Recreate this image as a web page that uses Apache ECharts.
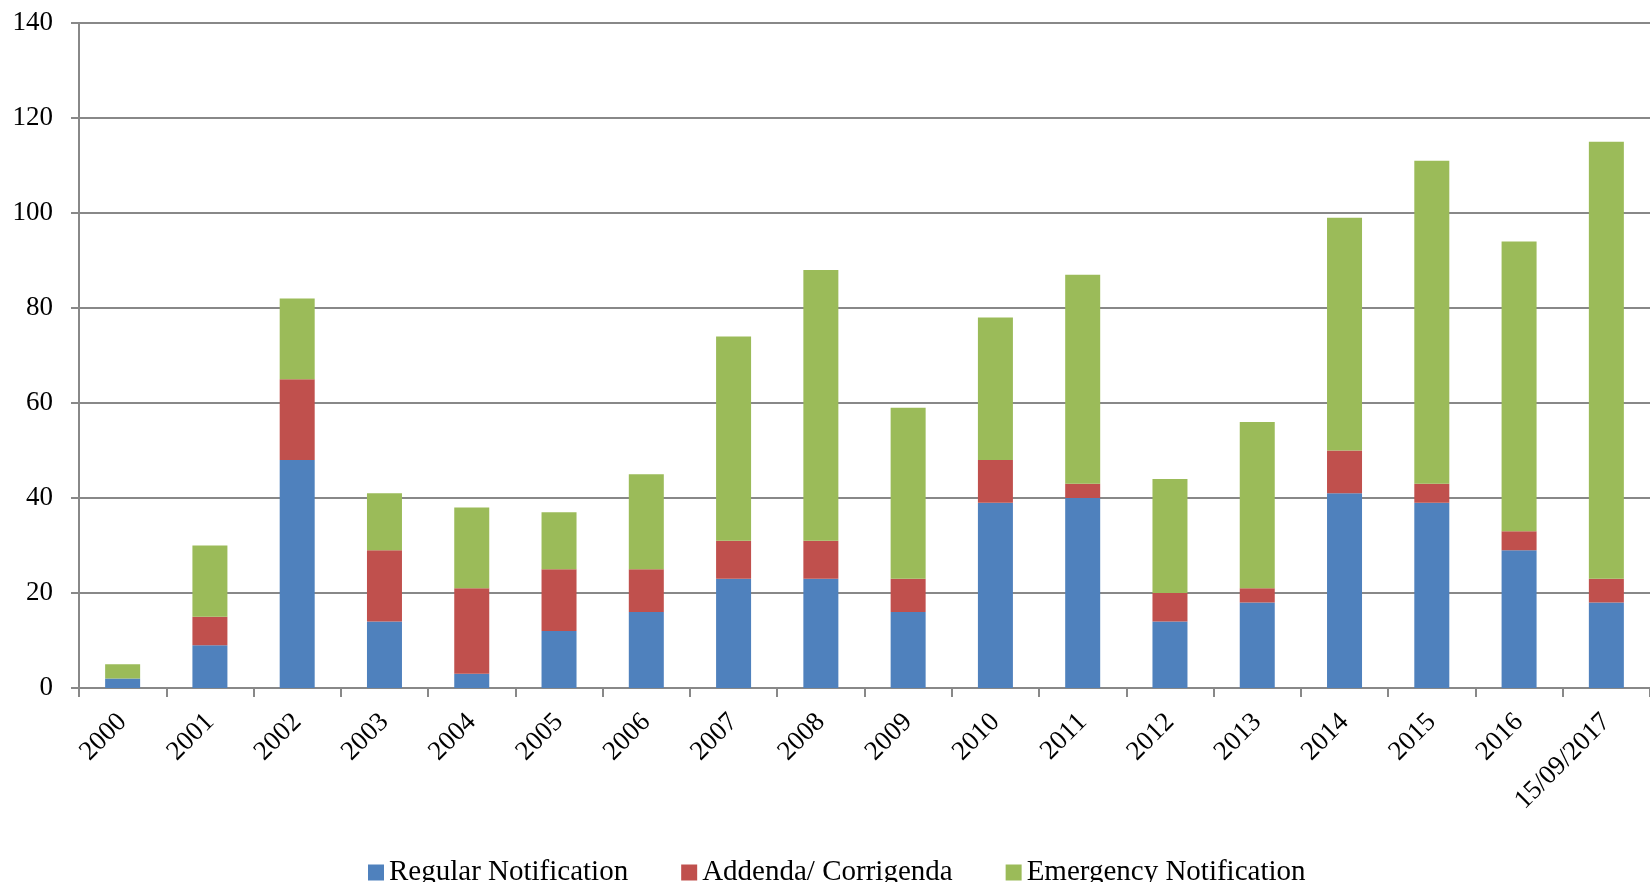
<!DOCTYPE html>
<html>
<head>
<meta charset="utf-8">
<script src="https://cdn.jsdelivr.net/npm/echarts@6/dist/echarts.min.js"></script>
<style>
  html, body { margin: 0; padding: 0; background: #fff; }
  #chart { width: 1650px; height: 882px; }
</style>
</head>
<body>
<div id="chart"></div>
<script>
// data
const years = ['2000', '2001', '2002', '2003', '2004', '2005', '2006', '2007', '2008',
  '2009', '2010', '2011', '2012', '2013', '2014', '2015', '2016', '15/09/2017'];
const regular = [2, 9, 48, 14, 3, 12, 16, 23, 23, 16, 39, 40, 14, 18, 41, 39, 29, 18];
const addenda = [0, 6, 17, 15, 18, 13, 9, 8, 8, 7, 9, 3, 6, 3, 9, 4, 4, 5];
const emergency = [3, 15, 17, 12, 17, 12, 20, 43, 57, 36, 30, 44, 24, 35, 49, 68, 61, 92];
const seriesNames = ['Regular Notification', 'Addenda/ Corrigenda', 'Emergency Notification'];

const font = '"Liberation Serif", "DejaVu Serif", serif';
const gridColor = '#888888';

const chart = echarts.init(document.getElementById('chart'));

function barSeries(name, data, color) {
  return {
    name: name,
    type: 'bar',
    stack: 'total',
    barWidth: 35,
    data: data,
    itemStyle: { color: color }
  };
}

chart.setOption({
  animation: false,
  textStyle: { fontFamily: font },
  grid: {
    left: 79,
    top: 23,
    width: 1584,
    height: 665
  },
  legend: {
    left: 363,
    top: 853,
    itemWidth: 16,
    itemHeight: 16,
    itemGap: 53,
    icon: 'rect',
    textStyle: { fontFamily: font, fontSize: 29, color: '#000' }
  },
  xAxis: {
    type: 'category',
    data: years,
    axisLine: { lineStyle: { color: gridColor, width: 2 } },
    axisTick: { show: true, length: 9, lineStyle: { color: gridColor, width: 2 } },
    axisLabel: {
      rotate: 45,
      margin: 30,
      fontFamily: font,
      fontSize: 27,
      color: '#000',
      interval: 0
    }
  },
  yAxis: {
    type: 'value',
    min: 0,
    max: 140,
    interval: 20,
    axisLine: { show: true, lineStyle: { color: gridColor, width: 2 } },
    axisTick: { show: true, length: 8, lineStyle: { color: gridColor, width: 2 } },
    splitLine: { lineStyle: { color: gridColor, width: 2 } },
    axisLabel: {
      margin: 26,
      fontFamily: font,
      fontSize: 27,
      color: '#000'
    }
  },
  series: [
    barSeries(seriesNames[0], regular, '#4F81BD'),
    barSeries(seriesNames[1], addenda, '#C0504D'),
    barSeries(seriesNames[2], emergency, '#9BBB59')
  ]
});
</script>
</body>
</html>
